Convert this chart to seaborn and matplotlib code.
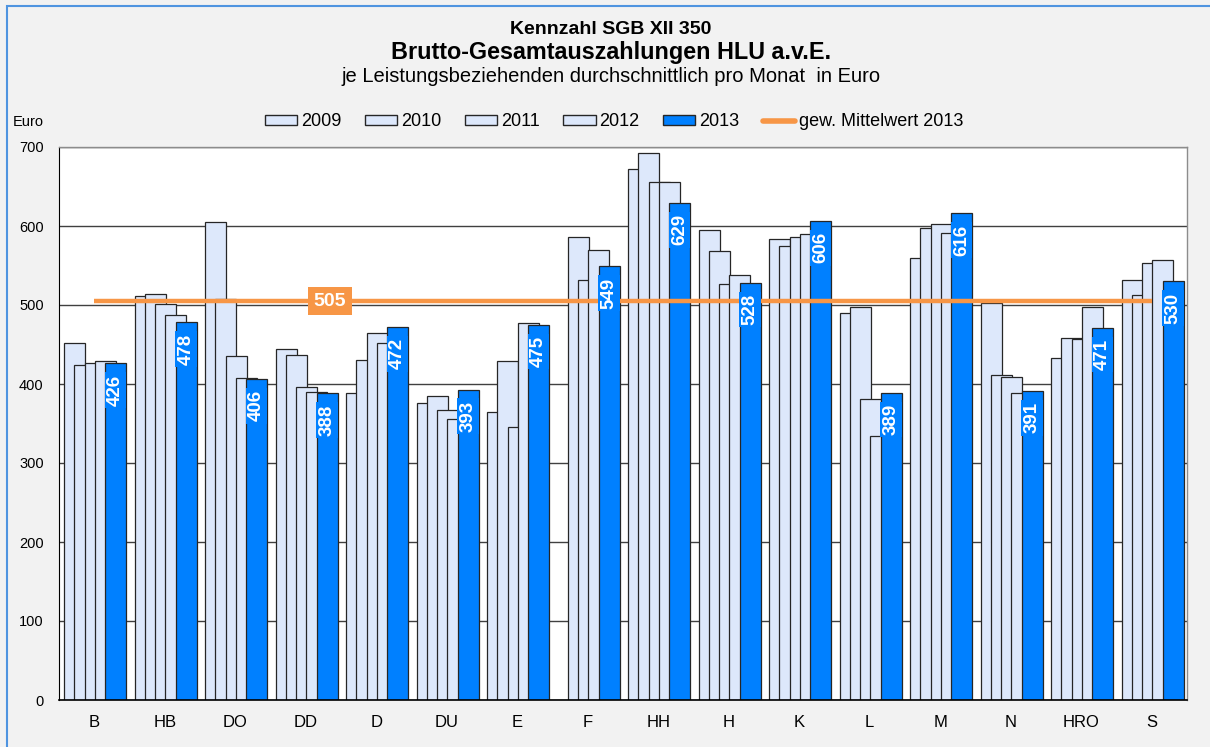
import numpy as np
import pandas as pd
import seaborn as sns
import matplotlib.pyplot as plt
from matplotlib.patches import Patch, Rectangle
from matplotlib.lines import Line2D

sns.set_style("white")
plt.rcParams['font.family'] = ['Liberation Sans', 'DejaVu Sans']
plt.rcParams['text.color'] = 'black'
plt.rcParams['xtick.color'] = 'black'
plt.rcParams['ytick.color'] = 'black'

# data
cats = ['B', 'HB', 'DO', 'DD', 'D', 'DU', 'E', 'F', 'HH', 'H', 'K', 'L', 'M', 'N', 'HRO', 'S']
years = ['2009', '2010', '2011', '2012', '2013']
v2009 = [452, 511, 605, 444, 388, 376, 364, np.nan, 672, 595, 583, 490, 560, 502, 433, 532]
v2010 = [424, 514, 508, 437, 431, 385, 429, 586, 693, 568, 575, 497, 597, 412, 458, 513]
v2011 = [426, 501, 436, 396, 465, 367, 346, 532, 656, 527, 586, 381, 602, 409, 457, 553]
v2012 = [429, 487, 407, 390, 452, 356, 477, 570, 656, 538, 590, 334, 591, 388, 498, 557]
v2013 = [426, 478, 406, 388, 472, 393, 475, 549, 629, 528, 606, 389, 616, 391, 471, 530]
mean_2013 = 505

light = '#dde8fb'
blue = '#0080ff'
orange = '#f79646'
edge = '#262626'

fig = plt.figure(figsize=(12.1, 7.47), dpi=100, facecolor='#f2f2f2')
ax = fig.add_axes([59 / 1210, 1 - 700 / 747, 1128 / 1210, 553 / 747])
ax.set_facecolor('white')

# overlapping bars, each year shifted a little to the right
bar_w = 0.298
step = 0.1454
start = -0.429
idx = np.arange(len(cats))
series = [v2009, v2010, v2011, v2012, v2013]
for k, (yr, vals) in enumerate(zip(years, series)):
    df = pd.DataFrame({'x': idx + start + k * step + bar_w / 2, 'y': vals}).dropna()
    sns.barplot(data=df, x='x', y='y', native_scale=True, width=bar_w,
                color=blue if yr == '2013' else light, saturation=1,
                edgecolor=edge, linewidth=0.9, errorbar=None, ax=ax, zorder=2)

# value labels on the 2013 bars
x13 = idx + start + 4 * step + bar_w / 2
for x, v in zip(x13, v2013):
    ax.annotate(str(v), (x, v), xytext=(0, -8), textcoords='offset points',
                rotation=90, ha='center', va='top', color='white',
                fontweight='bold', fontsize=13.5, zorder=6,
                bbox=dict(boxstyle='square,pad=0.12', fc=blue, ec='none'))

# weighted mean line
ax.plot([idx[0], idx[-1]], [mean_2013, mean_2013], color=orange, lw=3.2,
        solid_capstyle='butt', zorder=4)
ax.text(3.34, mean_2013, str(mean_2013), ha='center', va='center', color='white',
        fontweight='bold', fontsize=14, zorder=7,
        bbox=dict(boxstyle='square,pad=0.3', fc=orange, ec='none'))

# axes
ax.set_xlim(-0.5, len(cats) - 0.5)
ax.set_ylim(0, 700)
ax.set_yticks(range(0, 701, 100))
ax.yaxis.grid(True, color='#404040', lw=1)
ax.set_axisbelow(True)
ax.set_xlabel('')
ax.set_ylabel('')
ax.set_xticks(np.arange(-0.5, len(cats), 1))
ax.set_xticklabels([])
ax.set_xticks(idx, minor=True)
ax.set_xticklabels(cats, minor=True, fontsize=12)
ax.tick_params(axis='x', which='major', direction='out', length=5, width=1, color='black')
ax.tick_params(axis='x', which='minor', length=0, pad=11)
ax.tick_params(axis='y', direction='out', length=5, width=1, color='black',
               labelsize=10.5, pad=6)
ax.spines['left'].set_color('black')
ax.spines['bottom'].set_color('black')
ax.spines['bottom'].set_linewidth(1.2)
for s in ['top', 'right']:
    ax.spines[s].set_color('#8c8c8c')
    ax.spines[s].set_linewidth(1)

# titles
fig.text(0.505, 1 - 30 / 747, 'Kennzahl SGB XII 350', ha='center', va='center',
         fontsize=14, fontweight='bold')
fig.text(0.505, 1 - 53 / 747, 'Brutto-Gesamtauszahlungen HLU a.v.E.', ha='center',
         va='center', fontsize=16.8, fontweight='bold')
fig.text(0.505, 1 - 77 / 747, 'je Leistungsbeziehenden durchschnittlich pro Monat  in Euro',
         ha='center', va='center', fontsize=14.5)
fig.text(13 / 1210, 1 - 122 / 747, 'Euro', ha='left', va='center', fontsize=10.5)

# legend
handles = [Patch(fc=light, ec=edge) for _ in range(4)] + [Patch(fc=blue, ec=edge),
           Line2D([], [], color=orange, lw=4)]
labels = years + ['gew. Mittelwert 2013']
fig.legend(handles, labels, loc='center', bbox_to_anchor=(614 / 1210, 1 - 122 / 747),
           ncol=6, frameon=False, fontsize=13, handlelength=1.8, handleheight=0.5,
           handletextpad=0.2, columnspacing=1.3)

# blue frame at the top/left edge of the picture
fig.add_artist(Rectangle((7 / 1210, -0.1), 1.2, 1.1 - 6 / 747, transform=fig.transFigure,
                         fill=False, ec='#4f94e0', lw=1.5))

fig.savefig('out.png', dpi=100, facecolor=fig.get_facecolor())
